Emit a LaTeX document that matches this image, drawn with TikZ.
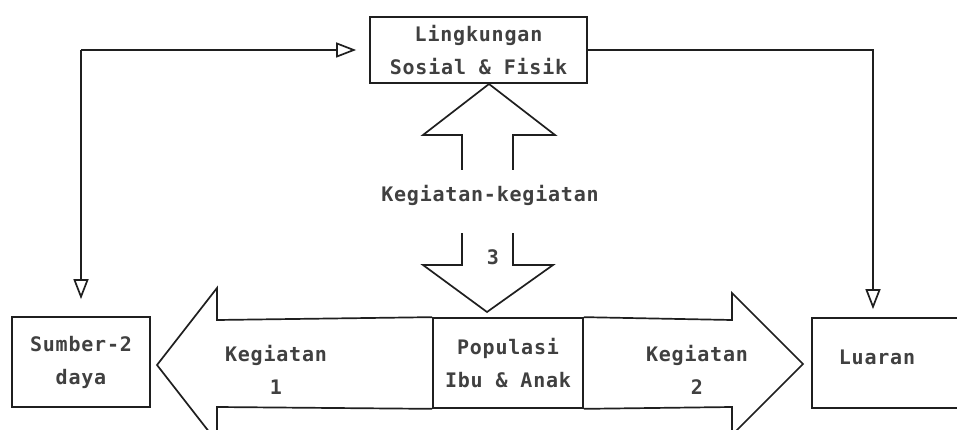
\documentclass[tikz,border=0pt]{standalone}
\usepackage{fontspec}
\newfontfamily\tmono[LetterSpace=4]{DejaVu Sans Mono}
\usetikzlibrary{arrows.meta}
\tikzset{
  ink/.style={draw=black!88, line width=1.7pt, line join=miter},
  box/.style={ink, rectangle, inner sep=0pt, minimum height=90pt},
  lbl/.style={font=\tmono\bfseries\fontsize{20}{33}\selectfont, align=center, text=black!75},
  opentri/.style={ink, -{Triangle[open, length=20pt, width=15pt, line width=1.7pt]}},
}
\begin{document}
\begin{tikzpicture}[x=1pt, y=-1pt]
\useasboundingbox (0,0) rectangle (957,430);
\clip (0,0) rectangle (957,430);
\fill[white] (0,0) rectangle (957,430);
% boxes
\node[box, minimum width=217pt, minimum height=66pt] (lk) at (478.5,50) {};
\node[lbl] at (lk.center) {Lingkungan\\Sosial \& Fisik};
\node[box, minimum width=138pt] (sd) at (81,362) {};
\node[lbl] at (sd.center) {Sumber-2\\daya};
\node[box, minimum width=150pt] (pop) at (508,363) {};
\node[lbl] at (pop.center) {Populasi\\Ibu \& Anak};
\node[box, minimum width=148pt] (lu) at (886,363) {};
\node[lbl, anchor=base] (lut) at (877,364) {Luaran};
% big horizontal arrows
\draw[ink] (pop.north west) -- (217,320) -- (217,288) -- (157,365) -- (217,442) -- (217,407) -- (pop.south west);
\node[lbl] (k1) at (276,370) {Kegiatan\\1};
\draw[ink] (pop.north east) -- (732,320) -- (732,293) -- (803,364) -- (732,435) -- (732,407) -- (pop.south east);
\node[lbl] (k2) at (697,370) {Kegiatan\\2};
% vertical double arrow
\draw[ink] (462,170) -- (462,135) -- (423,135) -- (489,84) -- (555,135) -- (513,135) -- (513,170);
\node[lbl] (kk) at (490,195) {Kegiatan-kegiatan};
\draw[ink] (462,233) -- (462,265) -- (423,265) -- (487,312) -- (553,265) -- (513,265) -- (513,233);
\node[lbl] (k3) at (493,257) {3};
% feedback connectors
\coordinate (c1) at (81,50);
\coordinate (c2) at (873,50);
\draw[opentri, shorten >=13pt] (c1) -- (lk.west);
\draw[opentri, shorten >=17pt] (c1) -- (sd.north);
\draw[opentri, shorten >=8pt] (lk.east) -- (c2) -- (c2 |- lu.north);
\end{tikzpicture}
\end{document}
